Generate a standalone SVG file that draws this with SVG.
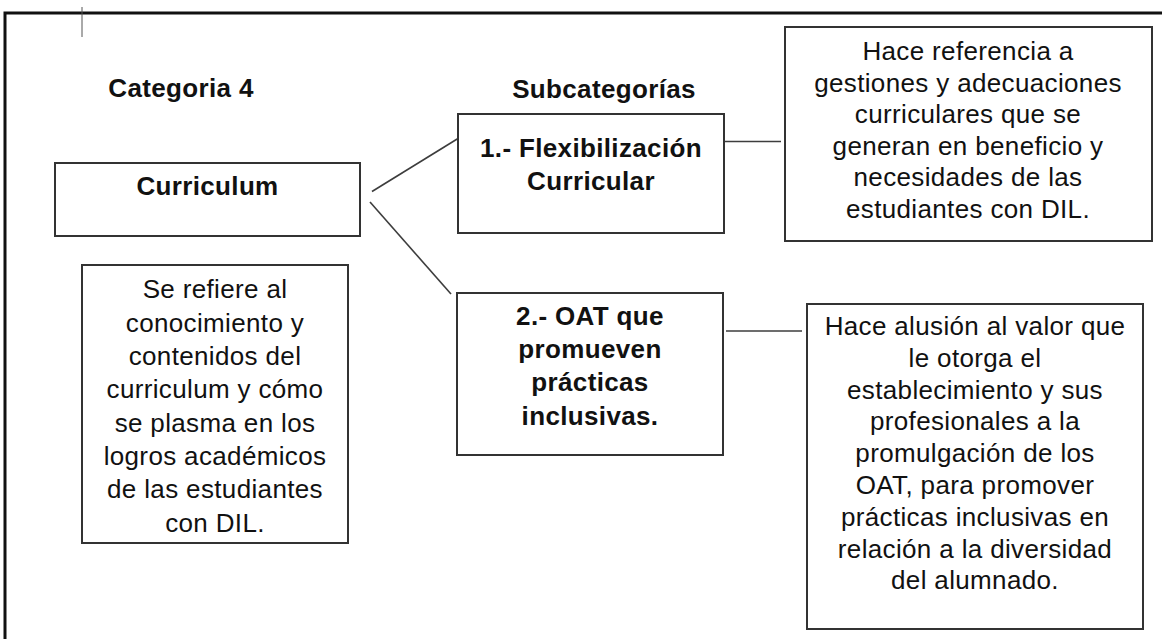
<svg xmlns="http://www.w3.org/2000/svg" width="1162" height="639" viewBox="0 0 1162 639">
<style>
text{font-family:"Liberation Sans",Arial,sans-serif;font-size:26px;fill:#111;text-anchor:middle;letter-spacing:0.35px}
.b{font-weight:bold}
.box{fill:#fff;stroke:#333;stroke-width:2}
.con{stroke:#3d3d3d;stroke-width:1.6;fill:none}
</style>
<rect width="1162" height="639" fill="#fff"/>
<path d="M5,639 V13 H1162" fill="none" stroke="#111" stroke-width="3"/>
<line x1="82" y1="7" x2="82" y2="37" stroke="#555" stroke-width="1"/>
<g id="labels">
<text class="b" x="181" y="97">Categoria 4</text>
<text class="b" x="604" y="98">Subcategorías</text>
</g>
<g id="connectors">
<line class="con" x1="372" y1="191.5" x2="458" y2="138.5"/>
<line class="con" x1="370" y1="202" x2="451" y2="294"/>
<line class="con" x1="725" y1="141.5" x2="781" y2="141.5"/>
<line class="con" x1="726" y1="331" x2="802" y2="331"/>
</g>
<g id="curriculum">
<rect class="box" x="55" y="163" width="305" height="73"/>
<text class="b" x="207.5" y="195">Curriculum</text>
</g>
<g id="curriculum-desc">
<rect class="box" x="82" y="265" width="266" height="278"/>
<text x="215" y="298">Se refiere al</text>
<text x="215" y="331.5">conocimiento y</text>
<text x="215" y="365">contenidos del</text>
<text x="215" y="398">curriculum y cómo</text>
<text x="215" y="431.5">se plasma en los</text>
<text x="215" y="465">logros académicos</text>
<text x="215" y="498">de las estudiantes</text>
<text x="215" y="531.5">con DIL.</text>
</g>
<g id="sub1">
<rect class="box" x="458" y="114" width="266" height="119"/>
<text class="b" x="591" y="157">1.- Flexibilización</text>
<text class="b" x="591" y="189.5">Curricular</text>
</g>
<g id="sub2">
<rect class="box" x="457" y="293" width="266" height="162"/>
<text class="b" x="590" y="325">2.- OAT que</text>
<text class="b" x="590" y="357.5">promueven</text>
<text class="b" x="590" y="391">prácticas</text>
<text class="b" x="590" y="424.5">inclusivas.</text>
</g>
<g id="sub1-desc">
<rect class="box" x="785" y="27" width="367" height="214"/>
<text x="968" y="60">Hace referencia a</text>
<text x="968" y="91.5">gestiones y adecuaciones</text>
<text x="968" y="123">curriculares que se</text>
<text x="968" y="154.5">generan en beneficio y</text>
<text x="968" y="186">necesidades de las</text>
<text x="968" y="217.5">estudiantes con DIL.</text>
</g>
<g id="sub2-desc">
<rect class="box" x="807" y="304" width="336" height="325"/>
<text x="975" y="335">Hace alusión al valor que</text>
<text x="975" y="366.8">le otorga el</text>
<text x="975" y="398.6">establecimiento y sus</text>
<text x="975" y="430.4">profesionales a la</text>
<text x="975" y="462.2">promulgación de los</text>
<text x="975" y="494">OAT, para promover</text>
<text x="975" y="525.8">prácticas inclusivas en</text>
<text x="975" y="557.6">relación a la diversidad</text>
<text x="975" y="589.4">del alumnado.</text>
</g>
</svg>
